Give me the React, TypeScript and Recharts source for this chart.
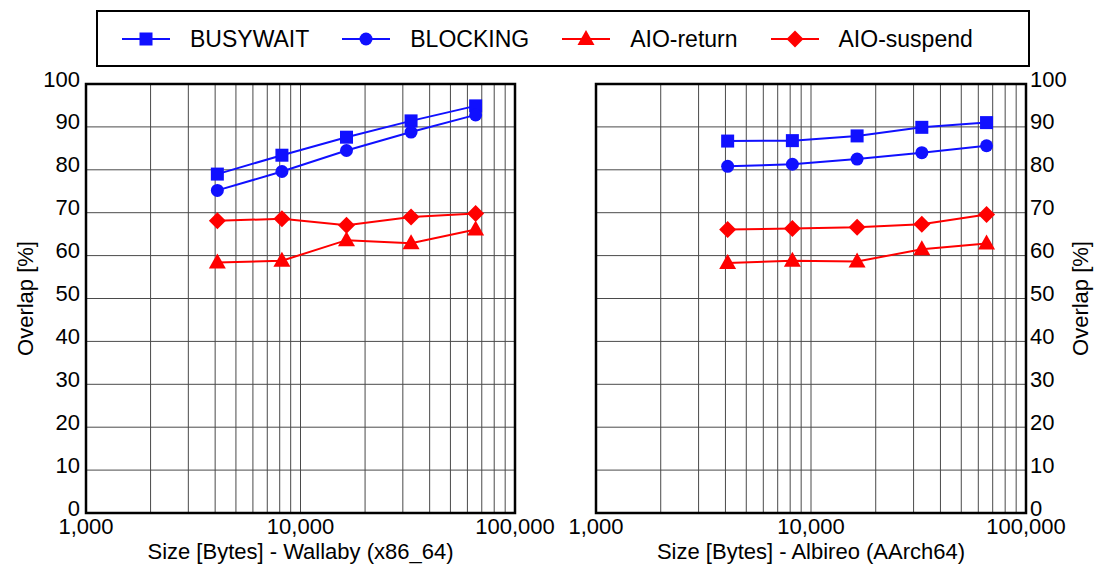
import { LineChart, Line, XAxis, YAxis, CartesianGrid, ReferenceArea } from 'recharts';

const FONT = '"Liberation Sans", Arial, Helvetica, sans-serif';

// message sizes in bytes
const sizes = [4096, 8192, 16384, 32768, 65536];

const xTicks = [
  1000, 2000, 3000, 4000, 5000, 6000, 7000, 8000, 9000,
  10000, 20000, 30000, 40000, 50000, 60000, 70000, 80000, 90000, 100000,
];
const xLabelTicks = [1000, 10000, 100000];
const yTicks = [0, 10, 20, 30, 40, 50, 60, 70, 80, 90, 100];

// Wallaby (x86_64)
const wallabyBusywait = [79.0, 83.4, 87.6, 91.4, 94.9];
const wallabyBlocking = [75.2, 79.6, 84.5, 88.8, 92.8];
const wallabyAioReturn = [58.4, 58.8, 63.6, 62.9, 66.1];
const wallabyAioSuspend = [68.1, 68.6, 67.1, 69.0, 69.8];

// Albireo (AArch64)
const albireoBusywait = [86.7, 86.8, 87.9, 89.9, 91.0];
const albireoBlocking = [80.8, 81.3, 82.5, 84.0, 85.6];
const albireoAioReturn = [58.3, 58.8, 58.6, 61.5, 62.8];
const albireoAioSuspend = [66.1, 66.3, 66.6, 67.3, 69.6];

type Shape = 'square' | 'circle' | 'triangle' | 'diamond';

const series: { key: string; name: string; color: string; shape: Shape }[] = [
  { key: 'busywait', name: 'BUSYWAIT', color: '#1010ff', shape: 'square' },
  { key: 'blocking', name: 'BLOCKING', color: '#1010ff', shape: 'circle' },
  { key: 'aioReturn', name: 'AIO-return', color: '#ff0000', shape: 'triangle' },
  { key: 'aioSuspend', name: 'AIO-suspend', color: '#ff0000', shape: 'diamond' },
];

function buildRows(a: number[], b: number[], c: number[], d: number[]) {
  return sizes.map((size, i) => ({
    size,
    busywait: a[i],
    blocking: b[i],
    aioReturn: c[i],
    aioSuspend: d[i],
  }));
}

const wallabyRows = buildRows(wallabyBusywait, wallabyBlocking, wallabyAioReturn, wallabyAioSuspend);
const albireoRows = buildRows(albireoBusywait, albireoBlocking, albireoAioReturn, albireoAioSuspend);

function Marker({ shape, cx, cy, color }: { shape: Shape; cx: number; cy: number; color: string }) {
  switch (shape) {
    case 'square':
      return <rect x={cx - 6.5} y={cy - 6.5} width={13} height={13} fill={color} />;
    case 'circle':
      return <circle cx={cx} cy={cy} r={6.5} fill={color} />;
    case 'triangle':
      return <polygon points={`${cx},${cy - 9} ${cx + 8.5},${cy + 6} ${cx - 8.5},${cy + 6}`} fill={color} />;
    default:
      return (
        <polygon
          points={`${cx},${cy - 8.5} ${cx + 8.5},${cy} ${cx},${cy + 8.5} ${cx - 8.5},${cy}`}
          fill={color}
        />
      );
  }
}

function XTick({ x, y, payload }: any) {
  if (!xLabelTicks.includes(payload.value)) return <g />;
  return (
    <text x={x} y={y} dy="0.72em" textAnchor="middle" fontSize={22} fill="#000" fontFamily={FONT}>
      {payload.value.toLocaleString('en-US')}
    </text>
  );
}

function YTick({ x, y, payload, anchor }: any) {
  return (
    <text x={x} y={y} dy={2.5} textAnchor={anchor} fontSize={22} fill="#000" fontFamily={FONT}>
      {payload.value}
    </text>
  );
}

interface PanelProps {
  rows: ReturnType<typeof buildRows>;
  xLabel: string;
  side: 'left' | 'right';
}

function Panel({ rows, xLabel, side }: PanelProps) {
  const isLeft = side === 'left';
  return (
    <LineChart
      width={isLeft ? 570 : 587}
      height={566}
      data={rows}
      margin={isLeft ? { top: 84, right: 55, bottom: 0, left: 0 } : { top: 84, right: 0, bottom: 0, left: 86 }}
    >
      <CartesianGrid stroke="#4a4a4a" strokeWidth={1} />
      <XAxis
        type="number"
        dataKey="size"
        scale="log"
        domain={[1000, 100000]}
        ticks={xTicks}
        interval={0}
        allowDataOverflow
        height={53}
        axisLine={false}
        tickLine={false}
        tickSize={0}
        tickMargin={5}
        tick={<XTick />}
        label={(p: any) => {
          const vb = p.viewBox;
          return (
            <text
              x={vb.x + vb.width / 2}
              y={vb.y + 46}
              textAnchor="middle"
              fontSize={22}
              fill="#000"
              fontFamily={FONT}
            >
              {xLabel}
            </text>
          );
        }}
      />
      <YAxis
        type="number"
        orientation={isLeft ? 'left' : 'right'}
        domain={[0, 100]}
        ticks={yTicks}
        interval={0}
        width={isLeft ? 86 : 71}
        axisLine={false}
        tickLine={false}
        tickSize={0}
        tickMargin={isLeft ? 6 : 4}
        tick={<YTick anchor={isLeft ? 'end' : 'start'} />}
        label={(p: any) => {
          const vb = p.viewBox;
          const cx = isLeft ? vb.x + 25 : vb.x + vb.width - 17;
          const cy = vb.y + vb.height / 2;
          return (
            <text
              x={cx}
              y={cy}
              transform={`rotate(-90, ${cx}, ${cy})`}
              textAnchor="middle"
              dominantBaseline="central"
              fontSize={22}
              fill="#000"
              fontFamily={FONT}
            >
              Overlap [%]
            </text>
          );
        }}
      />
      <ReferenceArea x1={1000} x2={100000} y1={0} y2={100} fill="none" stroke="#000" strokeWidth={2.5} />
      {series.map((s) => (
        <Line
          key={s.key}
          dataKey={s.key}
          name={s.name}
          stroke={s.color}
          strokeWidth={2}
          isAnimationActive={false}
          dot={(p: any) => (
            <Marker key={`${s.key}-${p.index}`} shape={s.shape} cx={p.cx} cy={p.cy} color={s.color} />
          )}
          activeDot={false}
        />
      ))}
    </LineChart>
  );
}

function ChartLegend() {
  return (
    <div
      style={{
        position: 'absolute',
        left: 96,
        top: 10,
        width: 934,
        height: 57,
        boxSizing: 'border-box',
        border: '2px solid #000',
        display: 'flex',
        alignItems: 'center',
        paddingLeft: 24,
        fontFamily: FONT,
        fontSize: 23,
        color: '#000',
      }}
    >
      {series.map((s, i) => (
        <div key={s.key} style={{ display: 'flex', alignItems: 'center', marginLeft: i === 0 ? 0 : 33 }}>
          <svg width={48} height={24} style={{ marginRight: 20 }}>
            <line x1={0} y1={12} x2={48} y2={12} stroke={s.color} strokeWidth={2} />
            <Marker shape={s.shape} cx={24} cy={12} color={s.color} />
          </svg>
          <span style={{ lineHeight: '24px' }}>{s.name}</span>
        </div>
      ))}
    </div>
  );
}

export default function App() {
  return (
    <div
      style={{
        position: 'fixed',
        left: 0,
        top: 0,
        width: 1097,
        height: 566,
        background: '#fff',
        fontFamily: FONT,
      }}
    >
      <ChartLegend />
      <div style={{ position: 'absolute', left: 0, top: 0 }}>
        <Panel rows={wallabyRows} xLabel="Size [Bytes] - Wallaby (x86_64)" side="left" />
      </div>
      <div style={{ position: 'absolute', left: 510, top: 0 }}>
        <Panel rows={albireoRows} xLabel="Size [Bytes] - Albireo (AArch64)" side="right" />
      </div>
    </div>
  );
}
